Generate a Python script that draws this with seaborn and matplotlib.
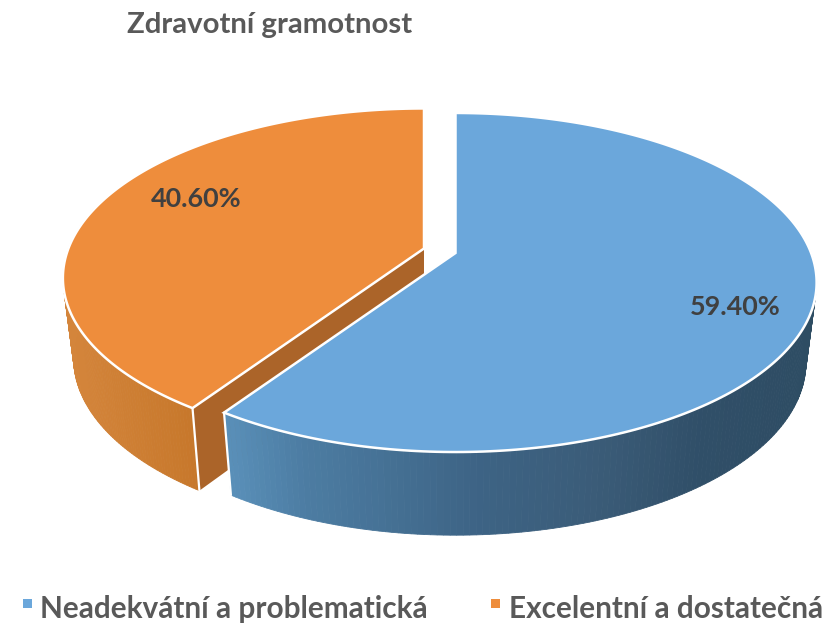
import numpy as np
import matplotlib
matplotlib.use("Agg")
import matplotlib.pyplot as plt
import seaborn as sns

title = "Zdravotní gramotnost"
categories = ["Neadekvátní a problematická", "Excelentní a dostatečná"]
shares = [59.40, 40.60]
share_labels = ["59.40%", "40.60%"]
top_colors = ["#6BA7DB", "#EE8D3C"]

sns.set_theme(style="white")
plt.rcParams["font.family"] = ["Lato", "DejaVu Sans"]

# projection of the tilted pie (pixels of the reference canvas)
APEX = [(455.5, 253), (424, 248.5)]
TOP_B, TOP_A = 355.6, 164.4
BOT_B, BOT_A, BOT_DY = 345.0, 167.0, 80.0
PERSP = 0.174


def project(theta, apex, b, a, dy=0.0):
    u, v = np.sin(theta), -np.cos(theta)
    d = 1 - PERSP * v
    return apex[0] + b * u / d, apex[1] + dy + a * v / d


def side_color(x, slice_i):
    stops = ([70, 190], [(0.83, 0.52, 0.23), (0.78, 0.47, 0.17)]) if slice_i == 1 else (
        [230, 300, 480, 600, 700, 810],
        [(0.35, 0.56, 0.72), (0.30, 0.49, 0.64), (0.24, 0.39, 0.52),
         (0.23, 0.36, 0.47), (0.19, 0.31, 0.41), (0.18, 0.30, 0.39)])
    xs, cs = stops
    return tuple(np.interp(x, xs, [c[i] for c in cs]) for i in range(3))


fig, ax = plt.subplots(figsize=(8.23, 6.25), dpi=100)
fig.subplots_adjust(0, 0, 1, 1)
ax.set_xlim(0, 823)
ax.set_ylim(625, 0)
ax.axis("off")

fracs = np.array(shares) / sum(shares)
starts = 2 * np.pi * np.concatenate([[0], np.cumsum(fracs)[:-1]])
ends = starts + 2 * np.pi * fracs

for i in [1, 0]:
    apex = APEX[i]
    th = np.linspace(starts[i], ends[i], 240)
    # outer wall as vertical strips
    for t0, t1 in zip(th[:-1], th[1:]):
        if -np.cos(t0) < -0.25:
            continue
        x0, y0 = project(t0, apex, TOP_B, TOP_A)
        x1, y1 = project(t1, apex, TOP_B, TOP_A)
        x2, y2 = project(t1, apex, BOT_B, BOT_A, BOT_DY)
        x3, y3 = project(t0, apex, BOT_B, BOT_A, BOT_DY)
        c = side_color((x0 + x1) / 2, i)
        ax.fill([x0, x1, x2, x3], [y0, y1, y2, y3], color=c, lw=0.6, zorder=2 + (1 - i) * 4)
    corner = starts[i] if i == 1 else ends[i]
    cx, cy = project(corner, apex, TOP_B, TOP_A)
    bx, by = project(corner, apex, BOT_B, BOT_A, BOT_DY)
    if i == 1:
        # cut face of the orange slice, seen through the gap
        ax.fill([apex[0], cx, bx, apex[0]], [apex[1], cy, by, apex[1] + BOT_DY],
                color="#AB6429", lw=0, zorder=3)
    ax.plot([cx, bx], [cy, by], color="white", lw=1.6, zorder=3.5 + (1 - i) * 4)
    # top face
    tx, ty = project(th, apex, TOP_B, TOP_A)
    ax.fill(np.r_[apex[0], tx], np.r_[apex[1], ty], facecolor=top_colors[i],
            edgecolor="white", lw=1.8, joinstyle="miter", zorder=4 + (1 - i) * 4)

label_xy = [(735, 307), (196, 199)]
for (x, y), s in zip(label_xy, share_labels):
    ax.text(x, y, s, ha="center", va="center", fontsize=19.4, fontweight="bold",
            color="#404040", zorder=12)

ax.text(270, 25, title, ha="center", va="center", fontsize=21.2, fontweight="bold", color="#595959")

legend_xy = [(23, 40), (491, 509)]
for (mx, tx), name, col in zip(legend_xy, categories, top_colors):
    ax.add_patch(plt.Rectangle((mx, 599), 9, 9, color=col, lw=0))
    ax.text(tx, 609, name, ha="left", va="center", fontsize=21.4, fontweight="bold", color="#595959")

fig.savefig("out.png", dpi=100)
